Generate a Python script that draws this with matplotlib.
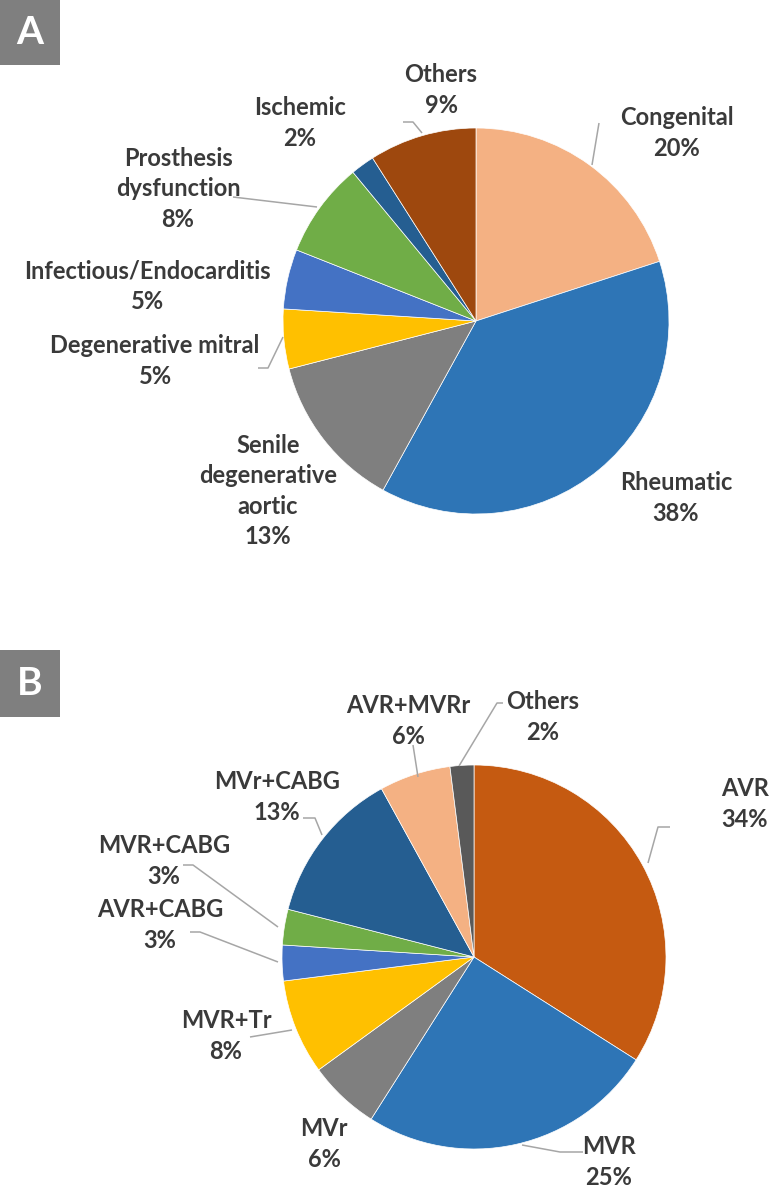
import matplotlib.pyplot as plt
from matplotlib.patches import Rectangle

# canvas size in pixels (figure is drawn 1:1 in pixel units)
W, H = 771, 1196

### Panel A: aetiology ###
labels_a = ["Congenital", "Rheumatic", "Senile\ndegenerative\naortic", "Degenerative mitral",
            "Infectious/Endocarditis", "Prosthesis\ndysfunction", "Ischemic", "Others"]
values_a = [20, 38, 13, 5, 5, 8, 2, 9]
colors_a = ["#F4B183", "#2E75B6", "#7F7F7F", "#FFC000",
            "#4472C4", "#70AD47", "#255E91", "#9E480E"]

### Panel B: procedures ###
labels_b = ["AVR", "MVR", "MVr", "MVR+Tr", "AVR+CABG", "MVR+CABG", "MVr+CABG", "AVR+MVRr", "Others"]
values_b = [34, 25, 6, 8, 3, 3, 13, 6, 2]
colors_b = ["#C55A11", "#2E75B6", "#7F7F7F", "#FFC000",
            "#4472C4", "#70AD47", "#255E91", "#F4B183", "#595959"]

# layout (pixels from top-left corner)
center_a, radius_a = (476, 321), 193
center_b, radius_b = (474, 957), 192

label_pos_a = [(677, 133), (676, 498), (268, 491), (155, 361),
               (147, 286), (178, 189), (300, 123), (441, 90)]
label_pos_b = [(745, 804), (609, 1162), (324, 1144), (226, 1036),
               (160, 925), (164, 861), (277, 797), (408, 721), (543, 717)]

leaders_a = [[(599, 123), (592, 165)],
             [(258, 368), (268, 368), (283, 337)],
             [(233, 197), (317, 207)],
             [(403, 122), (413, 122), (422, 133)]]
leaders_b = [[(670, 827), (658, 827), (648, 863)],
             [(583, 1152), (560, 1152), (522, 1145)],
             [(250, 1037), (292, 1030)],
             [(190, 932), (200, 932), (278, 962)],
             [(183, 865), (193, 865), (278, 927)],
             [(303, 818), (315, 818), (322, 835)],
             [(413, 745), (418, 777)],
             [(503, 703), (497, 703), (459, 766)]]

txt_color = "#3A3A3A"
font = "Lato"


def fy(y):
    # pixel row (from top) -> data y
    return H - y


fig = plt.figure(figsize=(W / 100, H / 100), dpi=100)
ax = fig.add_axes([0, 0, 1, 1])

for vals, cols, (cx, cy), r in [(values_a, colors_a, center_a, radius_a),
                                (values_b, colors_b, center_b, radius_b)]:
    ax.pie(vals, colors=cols, startangle=90, counterclock=False,
           center=(cx, fy(cy)), radius=r,
           wedgeprops=dict(edgecolor="white", linewidth=0.5))

for labs, vals, pos in [(labels_a, values_a, label_pos_a), (labels_b, values_b, label_pos_b)]:
    for lab, v, (x, y) in zip(labs, vals, pos):
        ax.text(x, fy(y), f"{lab}\n{v}%", ha="center", va="center", multialignment="center",
                fontsize=17, fontweight="bold", family=font, color=txt_color, linespacing=1.38)

for line in leaders_a + leaders_b:
    xs = [p[0] for p in line]
    ys = [fy(p[1]) for p in line]
    ax.plot(xs, ys, color="#A6A6A6", lw=1.1, solid_capstyle="butt")

# panel letters
for letter, top, h in [("A", 0, 65), ("B", 650, 67)]:
    ax.add_patch(Rectangle((0, fy(top + h)), 60, h, color="#7F7F7F", lw=0))
    ax.text(30, fy(top + h / 2), letter, ha="center", va="center", color="white",
            fontsize=28, fontweight="bold", family=font)

ax.set_xlim(0, W)
ax.set_ylim(0, H)
ax.set_aspect("equal")
ax.axis("off")

plt.savefig("out.png", dpi=100, facecolor="white")
